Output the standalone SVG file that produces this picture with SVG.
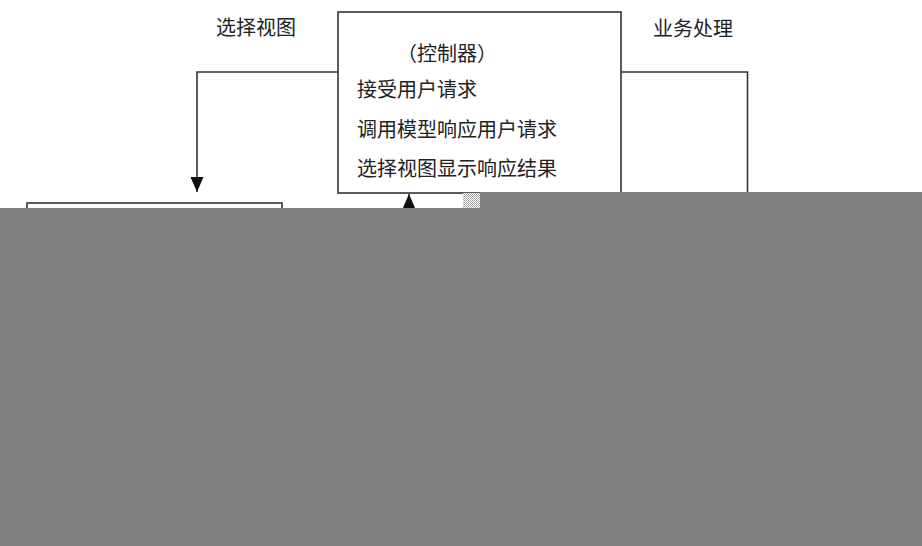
<svg xmlns="http://www.w3.org/2000/svg" width="922" height="546" viewBox="0 0 922 546">
<style>
.box{fill:#ffffff;stroke:#333333;stroke-width:1.6}
.conn{fill:none;stroke:#333333;stroke-width:1.6}
.t{font-family:"Noto Sans CJK SC","Noto Sans CJK TC",sans-serif;font-size:20px;fill:#222222}
.cover{fill:#808080}
</style>
<defs>
<marker id="arr" markerUnits="userSpaceOnUse" markerWidth="15" markerHeight="13" refX="15" refY="6.5" orient="auto">
<path d="M0,0 L15,6.5 L0,13 z" fill="#111111"/>
</marker>
<pattern id="dots" width="2" height="2" patternUnits="userSpaceOnUse">
<rect width="2" height="2" fill="#ffffff"/>
<rect width="1" height="1" fill="#9a9a9a"/>
<rect x="1" y="1" width="1" height="1" fill="#b0b0b0"/>
</pattern>
</defs>
<rect width="922" height="546" fill="#ffffff"/>
<g id="connectors">
<path class="conn" d="M338,72 H197 V192" marker-end="url(#arr)"/>
<path class="conn" d="M621,72 H747.5 V200"/>
<path class="conn" d="M409,220 V194" marker-end="url(#arr)"/>
</g>
<g id="node-controller">
<rect class="box" x="338" y="12" width="283" height="181"/>
<text class="t" x="397" y="61">（控制器）</text>
<text class="t" x="357" y="97">接受用户请求</text>
<text class="t" x="357" y="137">调用模型响应用户请求</text>
<text class="t" x="357" y="176">选择视图显示响应结果</text>
</g>
<g id="node-view">
<rect class="box" x="27" y="203" width="255" height="120"/>
</g>
<g id="label-select-view">
<text class="t" x="216" y="35">选择视图</text>
</g>
<g id="label-business">
<text class="t" x="653" y="36">业务处理</text>
</g>
<rect x="463" y="193" width="17" height="15" fill="url(#dots)"/>
<polygon class="cover" points="480,192 922,192 922,546 0,546 0,208 480,208"/>
</svg>
